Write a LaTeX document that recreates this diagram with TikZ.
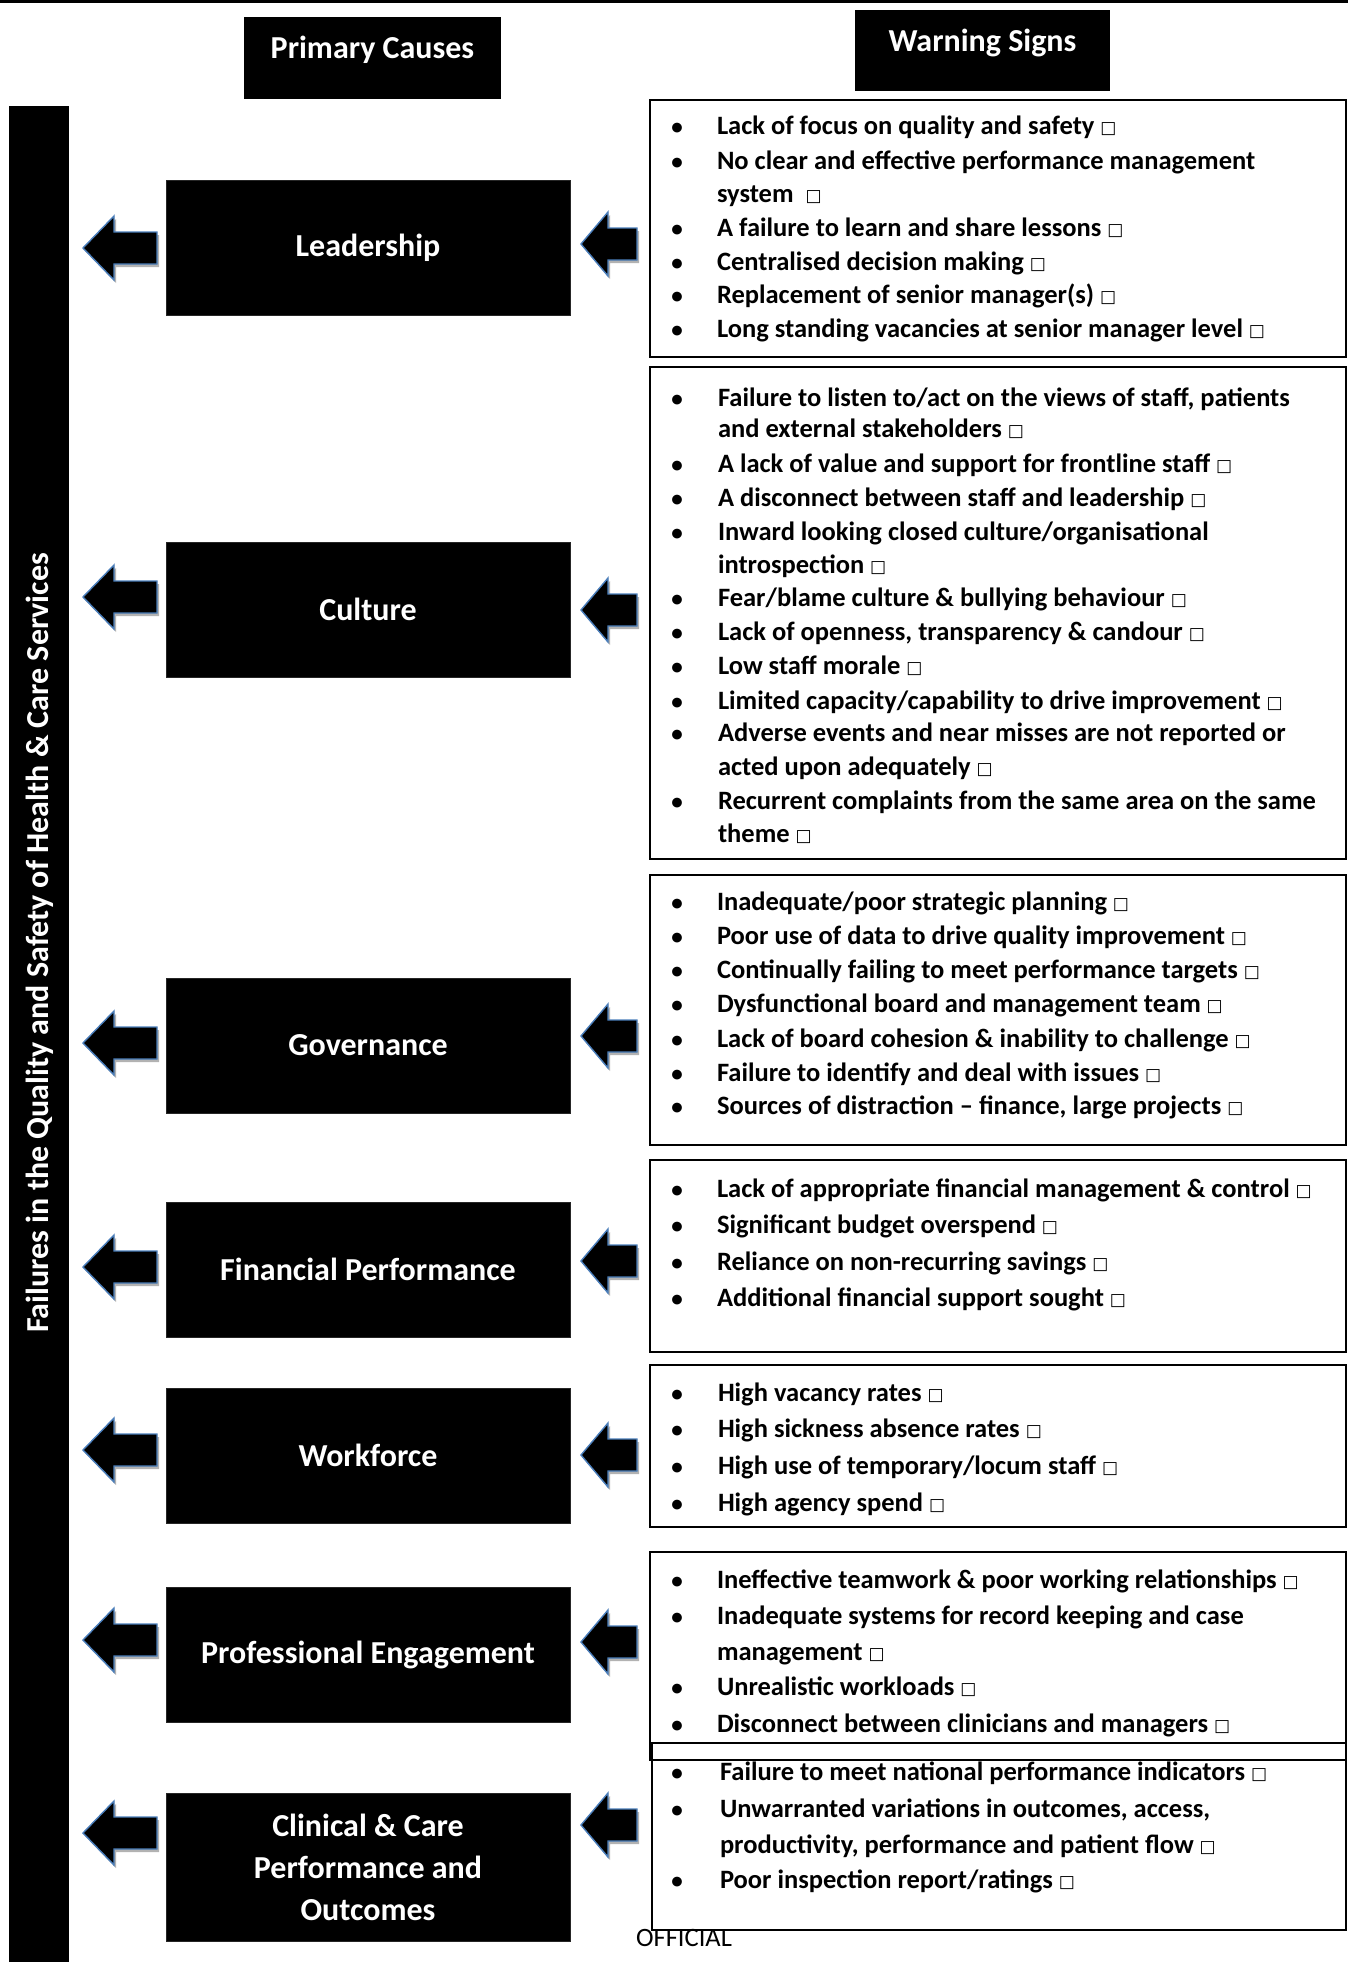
\documentclass[tikz,border=0pt]{standalone}
\usepackage{fontspec}
\setmainfont{Carlito}
\newfontfamily\dvs{DejaVu Sans}
\usetikzlibrary{shadows,calc}
\definecolor{arrblue}{HTML}{4A7EBB}
\newcommand\sq{{\dvs\fontsize{17}{17}\selectfont\raisebox{0.5pt}{□}}}
\newcommand\signfont{\bfseries\fontsize{26.5}{30}\selectfont}
\newcommand\causefont{\bfseries\fontsize{32}{42}\selectfont}
\newcommand\headfont{\bfseries\fontsize{32}{36}\selectfont}
\tikzset{
  x=1pt, y=-1pt,
  every node/.style={inner sep=0pt, outer sep=0pt},
  headbox/.style={fill=black, text=white, font=\headfont, text height=21.5pt, text depth=20.5pt},
  causebox/.style={fill=black, draw=black!85, line width=0.6pt, text=white, font=\causefont, align=center, minimum width=404},
  signbox/.style={draw=black, line width=2pt},
  signtext/.style={anchor=base west, font=\signfont, yshift=-2pt},
  bulletmark/.style={anchor=base, font=\bfseries\fontsize{23}{26}\selectfont, yshift=-2pt},
  arrowstyle/.style={fill=black, draw=arrblue, line width=1.4pt, line join=miter,
    drop shadow={shadow xshift=2pt, shadow yshift=-3pt, opacity=0.3, fill=black}},
  pics/blockarrow/.style 2 args={code={
    \path[arrowstyle] (0,0) -- (#1,-32) -- (#1,-16) -- (#2,-16) -- (#2,16) -- (#1,16) -- (#1,32) -- cycle;}},
}
\newcommand\signlines[4]{% #1 prefix, #2 bullet x, #3 text x, #4 list
  \foreach \ty/\tb/\tx [count=\i] in {#4} {
    \ifnum\tb=1 \node[bulletmark] (#1-b\i) at (#2,\ty) {•};\fi
    \node[signtext] (#1-\i) at (#3,\ty) {\tx};
  }}
\begin{document}
\begin{tikzpicture}
\useasboundingbox[fill=white] (0,0) rectangle (1348,1962);
% top rule
\draw[line width=3pt] (0,1.5) -- (1348,1.5);
% headers
\node[headbox, minimum width=257, minimum height=82] (hcause) at (372.5,58) {Primary Causes};
\node[headbox, minimum width=255, minimum height=81] (hsign) at (982.5,50.5) {Warning Signs};
% vertical bar
\node[fill=black, minimum width=60, minimum height=1856, anchor=north west] (bar) at (9,106) {};
\node[rotate=90, text=white, font=\bfseries\fontsize{32}{36}\selectfont] (bartext) at (40,943)
  {Failures in the Quality and Safety of Health \& Care Services};
% cause boxes
\node[causebox, minimum height=135] (lead) at (368,247.5) {Leadership};
\node[causebox, minimum height=135] (cult) at (368,609.5) {Culture};
\node[causebox, minimum height=135] (gov) at (368,1045.5) {Governance};
\node[causebox, minimum height=135] (fin) at (368,1269.5) {Financial Performance};
\node[causebox, minimum height=135] (wf) at (368,1455.5) {Workforce};
\node[causebox, minimum height=135] (prof) at (368,1654.5) {Professional Engagement};
\node[causebox, minimum height=148] (clin) at (368,1867) {Clinical \& Care\\Performance and\\Outcomes};
% sign boxes
\node[signbox, minimum width=696, minimum height=257] (slead) at (998,228.5) {};
\node[signbox, minimum width=696, minimum height=492] (scult) at (998,613) {};
\node[signbox, minimum width=696, minimum height=270] (sgov) at (998,1010) {};
\node[signbox, minimum width=696, minimum height=192] (sfin) at (998,1256) {};
\node[signbox, minimum width=696, minimum height=162] (swf) at (998,1446) {};
\node[signbox, minimum width=694, minimum height=187] (sclin) at (999,1836.5) {};
\node[signbox, minimum width=696, minimum height=208] (sprof) at (998,1656) {};
% left arrows
\foreach \yy [count=\k] in {248,597,1043,1267,1450,1640,1833}
  \pic (la\k) at (83,\yy) {blockarrow={31}{74}};
% right arrows
\foreach \yy [count=\k] in {244,610,1036,1261,1455,1642,1825}
  \pic (ra\k) at (581,\yy) {blockarrow={27}{56}};
% sign texts
\signlines{tl}{677}{717}{132/1/{Lack of focus on quality and safety \sq},
  167/1/{No clear and effective performance management},
  200/0/{system \ \sq},
  234/1/{A failure to learn and share lessons \sq},
  268/1/{Centralised decision making \sq},
  301/1/{Replacement of senior manager(s) \sq},
  335/1/{Long standing vacancies at senior manager level \sq}}
\signlines{tc}{677}{718}{404/1/{Failure to listen to/act on the views of staff, patients},
  435/0/{and external stakeholders \sq},
  470/1/{A lack of value and support for frontline staff \sq},
  504/1/{A disconnect between staff and leadership \sq},
  538/1/{Inward looking closed culture/organisational},
  571/0/{introspection \sq},
  604/1/{Fear/blame culture \& bullying behaviour \sq},
  638/1/{Lack of openness, transparency \& candour \sq},
  672/1/{Low staff morale \sq},
  707/1/{Limited capacity/capability to drive improvement \sq},
  739/1/{Adverse events and near misses are not reported or},
  773/0/{acted upon adequately \sq},
  807/1/{Recurrent complaints from the same area on the same},
  840/0/{theme \sq}}
\signlines{tg}{677}{717}{908/1/{Inadequate/poor strategic planning \sq},
  942/1/{Poor use of data to drive quality improvement \sq},
  976/1/{Continually failing to meet performance targets \sq},
  1010/1/{Dysfunctional board and management team \sq},
  1045/1/{Lack of board cohesion \& inability to challenge \sq},
  1079/1/{Failure to identify and deal with issues \sq},
  1112/1/{Sources of distraction – finance, large projects \sq}}
\signlines{tf}{677}{717}{1195/1/{Lack of appropriate financial management \& control \sq},
  1231/1/{Significant budget overspend \sq},
  1268/1/{Reliance on non-recurring savings \sq},
  1304/1/{Additional financial support sought \sq}}
\signlines{tw}{677}{718}{1399/1/{High vacancy rates \sq},
  1435/1/{High sickness absence rates \sq},
  1472/1/{High use of temporary/locum staff \sq},
  1509/1/{High agency spend \sq}}
\signlines{tp}{677}{717}{1586/1/{Ineffective teamwork \& poor working relationships \sq},
  1622/1/{Inadequate systems for record keeping and case},
  1658/0/{management \sq},
  1693/1/{Unrealistic workloads \sq},
  1730/1/{Disconnect between clinicians and managers \sq}}
\signlines{tk}{677}{720}{1778/1/{Failure to meet national performance indicators \sq},
  1815/1/{Unwarranted variations in outcomes, access,},
  1851/0/{productivity, performance and patient flow \sq},
  1886/1/{Poor inspection report/ratings \sq}}
% footer
\node[anchor=base, font=\fontsize{26.5}{30}\selectfont] (official) at (684,1946) {OFFICIAL};
\end{tikzpicture}
\end{document}
